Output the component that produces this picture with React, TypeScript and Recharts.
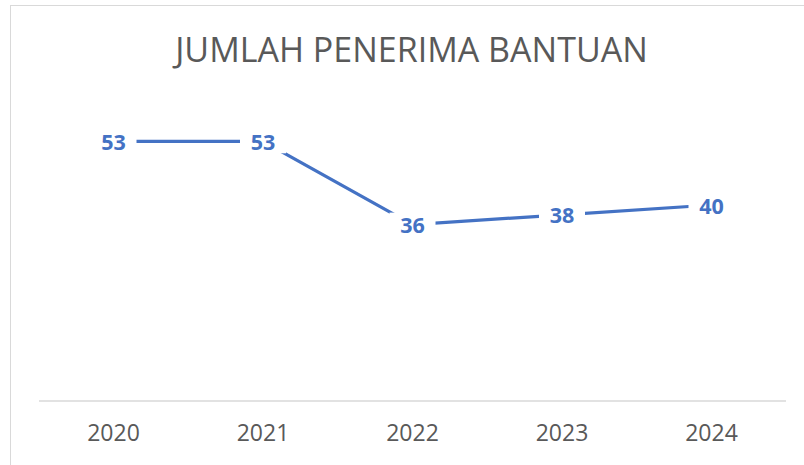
import { LineChart, Line, XAxis, YAxis, LabelList } from 'recharts';

const years = ['2020', '2021', '2022', '2023', '2024'];
const penerima = [53, 53, 36, 38, 40];

const data = years.map((year, i) => ({ year, value: penerima[i] }));

const BLUE = '#4472C4';
const GREY = '#595959';
const FONT = '"Open Sans", sans-serif';

function ValueLabel(props: any) {
  const { x, y, value } = props;
  return (
    <g>
      <rect x={x - 23} y={y - 12} width={46} height={24} fill="#fff" />
      <text
        x={x}
        y={y}
        textAnchor="middle"
        dominantBaseline="central"
        fill={BLUE}
        fontFamily={FONT}
        fontWeight={700}
        fontSize={21.5}
      >
        {value}
      </text>
    </g>
  );
}

export default function App() {
  return (
    <div style={{ position: 'absolute', left: 0, top: 0, width: 804, height: 465, overflow: 'hidden', background: '#fff' }}>
      <div
        style={{
          position: 'absolute',
          left: 10,
          top: 5,
          width: 820,
          height: 480,
          border: '1.5px solid #D9D9D9',
          boxSizing: 'border-box',
        }}
      />
      <div
        style={{
          position: 'absolute',
          left: 0,
          width: 823,
          top: 24,
          textAlign: 'center',
          fontFamily: FONT,
          fontSize: 34,
          color: GREY,
          lineHeight: '50px',
        }}
      >
        JUMLAH PENERIMA BANTUAN
      </div>
      <div style={{ position: 'absolute', left: 0, top: 0 }}>
        <LineChart width={804} height={465} data={data} margin={{ top: 107, right: 18, bottom: 0, left: 39 }}>
          <XAxis
            dataKey="year"
            height={64}
            padding={{ left: 74.5, right: 74.5 }}
            axisLine={{ stroke: '#D9D9D9', strokeWidth: 1.5 }}
            tickLine={false}
            tickMargin={18}
            tick={{ fill: GREY, fontFamily: FONT, fontSize: 23 }}
          />
          <YAxis hide domain={[0, 60]} />
          <Line
            dataKey="value"
            stroke={BLUE}
            strokeWidth={3.2}
            dot={false}
            isAnimationActive={false}
          >
            <LabelList dataKey="value" content={<ValueLabel />} />
          </Line>
        </LineChart>
      </div>
    </div>
  );
}
